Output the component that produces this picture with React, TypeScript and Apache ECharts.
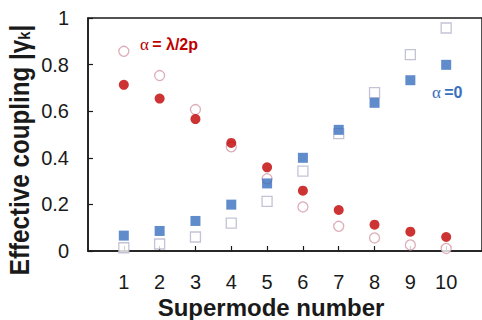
import React, { useEffect, useRef } from "react";
import * as echarts from "echarts";

// Supermode index (x) and effective coupling |γk| (y) for the four data sets
const modes = [1, 2, 3, 4, 5, 6, 7, 8, 9, 10];
const halfPitchFilled = [0.713, 0.654, 0.566, 0.464, 0.359, 0.259, 0.176, 0.113, 0.083, 0.06];
const halfPitchOpen = [0.857, 0.753, 0.607, 0.447, 0.31, 0.189, 0.106, 0.056, 0.026, 0.011];
const zeroFilled = [0.066, 0.086, 0.129, 0.199, 0.29, 0.4, 0.52, 0.636, 0.733, 0.799];
const zeroOpen = [0.014, 0.03, 0.06, 0.12, 0.213, 0.343, 0.504, 0.68, 0.843, 0.957];
const yTicks = [0, 0.2, 0.4, 0.6, 0.8, 1];

const FONT = "'Liberation Sans', Arial, sans-serif";
const RED = "#c00000";
const BLUE = "#3a6fbf";

const pairs = (vals: number[]) => modes.map((m, i) => [m, vals[i]]);

export default function App() {
  const ref = useRef<HTMLDivElement>(null);

  useEffect(() => {
    if (!ref.current) return;
    const chart = echarts.init(ref.current, null, { renderer: "svg" });
    chart.setOption({
      animation: false,
      backgroundColor: "#ffffff",
      grid: {
        left: 88,
        top: 18,
        right: -4,
        bottom: 69,
        show: true,
        borderColor: "#1a1a1a",
        borderWidth: 1.5,
      },
      xAxis: {
        type: "value",
        min: 0,
        max: 11,
        interval: 1,
        splitLine: { show: false },
        axisLine: { lineStyle: { color: "#1a1a1a", width: 1.5 } },
        axisTick: {
          inside: true,
          length: 5,
          customValues: modes,
          lineStyle: { color: "#1a1a1a", width: 1.2 },
        },
        axisLabel: {
          customValues: modes,
          margin: 21,
          fontSize: 20,
          fontFamily: FONT,
          color: "#1a1a1a",
        },
      },
      yAxis: {
        type: "value",
        min: 0,
        max: 1,
        interval: 0.2,
        splitLine: { show: false },
        axisLine: { show: true, lineStyle: { color: "#1a1a1a", width: 1.5 } },
        axisTick: {
          inside: true,
          length: 5,
          customValues: yTicks,
          lineStyle: { color: "#1a1a1a", width: 1.2 },
        },
        axisLabel: {
          customValues: yTicks,
          margin: 19,
          fontSize: 20,
          fontFamily: FONT,
          color: "#1a1a1a",
          formatter: (v: number) => String(Math.round(v * 10) / 10),
        },
      },
      series: [
        {
          type: "scatter",
          data: pairs(halfPitchOpen),
          symbol: "circle",
          symbolSize: 10,
          itemStyle: { color: "#ffffff", borderColor: "#d49aa6", borderWidth: 1.3 },
        },
        {
          type: "scatter",
          data: pairs(zeroOpen),
          symbol: "rect",
          symbolSize: 10,
          itemStyle: { color: "#ffffff", borderColor: "#b4b4cc", borderWidth: 1.3 },
        },
        {
          type: "scatter",
          data: pairs(halfPitchFilled),
          symbol: "circle",
          symbolSize: 10,
          itemStyle: { color: RED },
        },
        {
          type: "scatter",
          data: pairs(zeroFilled),
          symbol: "rect",
          symbolSize: 10,
          itemStyle: { color: BLUE },
        },
      ],
      graphic: [
        {
          type: "text",
          x: 271,
          y: 307,
          style: {
            text: "Supermode number",
            font: `bold 24px ${FONT}`,
            fill: "#1a1a1a",
            align: "center",
            verticalAlign: "middle",
          },
        },
        {
          type: "text",
          x: 18,
          y: 150,
          rotation: Math.PI / 2,
          scaleX: 0.865,
          style: {
            text: "{n|Effective coupling |γ}{s|k}{n||}",
            align: "center",
            verticalAlign: "middle",
            rich: {
              n: { fontSize: 28, fontWeight: "bold", fontFamily: FONT, fill: "#1a1a1a", verticalAlign: "bottom", lineHeight: 30 },
              s: { fontSize: 17, fontWeight: "bold", fontFamily: FONT, fill: "#1a1a1a", verticalAlign: "bottom", lineHeight: 22 },
            },
          },
        },
        {
          type: "text",
          x: 140,
          y: 44,
          style: {
            text: "{a|α} {b|= λ/2p}",
            verticalAlign: "middle",
            rich: {
              a: { fontSize: 17, fontFamily: "'Liberation Serif', serif", fill: RED },
              b: { fontSize: 16, fontWeight: "bold", fontFamily: FONT, fill: RED },
            },
          },
        },
        {
          type: "text",
          x: 432,
          y: 92,
          style: {
            text: "{a|α} {b|=0}",
            verticalAlign: "middle",
            rich: {
              a: { fontSize: 17, fontFamily: "'Liberation Serif', serif", fill: BLUE },
              b: { fontSize: 16, fontWeight: "bold", fontFamily: FONT, fill: BLUE },
            },
          },
        },
      ],
    });
    return () => chart.dispose();
  }, []);

  return (
    <div
      ref={ref}
      style={{ position: "absolute", left: 0, top: 0, width: 482, height: 320 }}
    />
  );
}
